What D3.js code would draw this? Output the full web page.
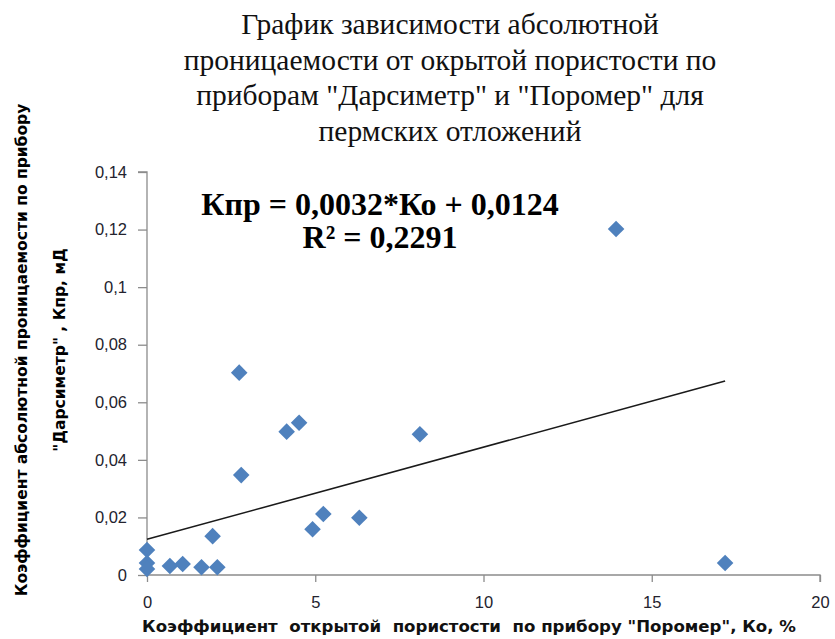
<!DOCTYPE html>
<html>
<head>
<meta charset="utf-8">
<script src="https://cdn.jsdelivr.net/npm/d3@7"></script>
<style>
  body { margin: 0; background: #fff; }
</style>
</head>
<body>
<svg id="mainsvg" width="835" height="639"></svg>
<script>
// porosity (Ko, %) vs permeability (Kpr, mD)
var ko  = [0, 0, 0, 0.68, 1.06, 1.62, 2.09, 1.95, 2.74, 2.80, 4.15, 4.52, 4.92, 5.24, 6.31, 8.11, 13.94, 17.18];
var kpr = [0.0087, 0.0042, 0.0021, 0.0031, 0.0038, 0.0027, 0.0027, 0.0135, 0.0703, 0.0347, 0.0498, 0.0529, 0.0159, 0.0212, 0.0199, 0.0489, 0.1202, 0.0042];

var xTicks = [0, 5, 10, 15, 20];
var yTicks = [0, 0.02, 0.04, 0.06, 0.08, 0.1, 0.12, 0.14];

var slope = 0.0032, intercept = 0.0124;

var titleLines = ['График зависимости абсолютной',
                  'проницаемости от окрытой пористости по',
                  'приборам "Дарсиметр" и "Поромер" для',
                  'пермских отложений'];
var eqLines = ['Кпр = 0,0032*Ко + 0,0124', 'R² = 0,2291'];
var yLabelLines = ['Коэффициент абсолютной проницаемости по прибору',
                   '"Дарсиметр" , Кпр, мД'];
var xLabel = 'Коэффициент  открытой  пористости  по прибору "Поромер", Ко, %';

var svg = d3.select("#mainsvg"),
    margin = {top: 172, right: 15, bottom: 64, left: 147},
    width = svg.attr("width") - margin.left - margin.right,
    height = svg.attr("height") - margin.top - margin.bottom;

var data = ko.map((d, i) => ({x: d, y: kpr[i]}));

var xScale = d3.scaleLinear().domain([0, 20]).range([0, width]);
var yScale = d3.scaleLinear().domain([0, 0.14]).range([height, 0]);

var fmt = d => d === 0 ? '0' : String(d).replace('.', ',');

var g = svg.append('g')
    .attr('transform', 'translate(' + margin.left + ',' + margin.top + ')');

// axes
var yAxis = g.append('g')
    .call(d3.axisLeft(yScale).tickValues(yTicks).tickFormat(fmt).tickSize(9).tickPadding(11));
var xAxis = g.append('g')
    .attr('transform', 'translate(0,' + height + ')')
    .call(d3.axisBottom(xScale).tickValues(xTicks).tickFormat(fmt).tickSize(7).tickPadding(14));
g.selectAll('.domain, .tick line').attr('stroke', '#8c8c8c').attr('stroke-width', 1.3);
yAxis.select('.domain').attr('d', 'M-9,0H0V' + height);
xAxis.select('.domain').attr('d', 'M0,0H' + width + 'V7');
g.selectAll('.tick text')
    .style('font-family', '"Liberation Sans", Arial, sans-serif')
    .style('font-size', '16.5px')
    .attr('fill', '#23232e');

// trend line
var xmax = d3.max(ko);
g.append('line')
    .attr('x1', xScale(0)).attr('y1', yScale(intercept))
    .attr('x2', xScale(xmax)).attr('y2', yScale(slope * xmax + intercept))
    .attr('stroke', '#1a1a1a').attr('stroke-width', 1.6);

// markers
g.append('g').selectAll('path')
    .data(data)
    .enter()
    .append('path')
    .attr('transform', d => 'translate(' + xScale(d.x) + ',' + yScale(d.y) + ')')
    .attr('d', d3.symbol().type(d3.symbolDiamond2).size(175))
    .attr('fill', '#4f81bd');

// title
svg.append('g').selectAll('text')
    .data(titleLines)
    .enter()
    .append('text')
    .attr('x', 450)
    .attr('y', (d, i) => 34 + i * 35.5)
    .attr('text-anchor', 'middle')
    .style('font-family', '"Liberation Serif", "Times New Roman", serif')
    .style('font-size', '29.5px')
    .style('fill', '#111')
    .text(d => d);

// equation
svg.append('g').selectAll('text')
    .data(eqLines)
    .enter()
    .append('text')
    .attr('x', 380)
    .attr('y', (d, i) => 215 + i * 33)
    .attr('text-anchor', 'middle')
    .style('font-family', '"Liberation Serif", "Times New Roman", serif')
    .style('font-weight', 'bold')
    .style('font-size', '32px')
    .style('fill', '#000')
    .text(d => d);

// axis titles
svg.append('g')
    .attr('transform', 'translate(27,350) rotate(-90)')
    .selectAll('text')
    .data(yLabelLines)
    .enter()
    .append('text')
    .attr('x', 0)
    .attr('y', (d, i) => i * 38)
    .attr('text-anchor', 'middle')
    .style('font-family', '"DejaVu Sans", Verdana, sans-serif')
    .style('font-weight', 'bold')
    .style('font-size', '15.5px')
    .style('fill', '#000')
    .text(d => d);

svg.append('text')
    .attr('x', 469)
    .attr('y', 632)
    .attr('text-anchor', 'middle')
    .style('font-family', '"DejaVu Sans", Verdana, sans-serif')
    .style('font-weight', 'bold')
    .style('font-size', '16.6px')
    .style('fill', '#111')
    .style('white-space', 'pre')
    .text(xLabel);
</script>
</body>
</html>
